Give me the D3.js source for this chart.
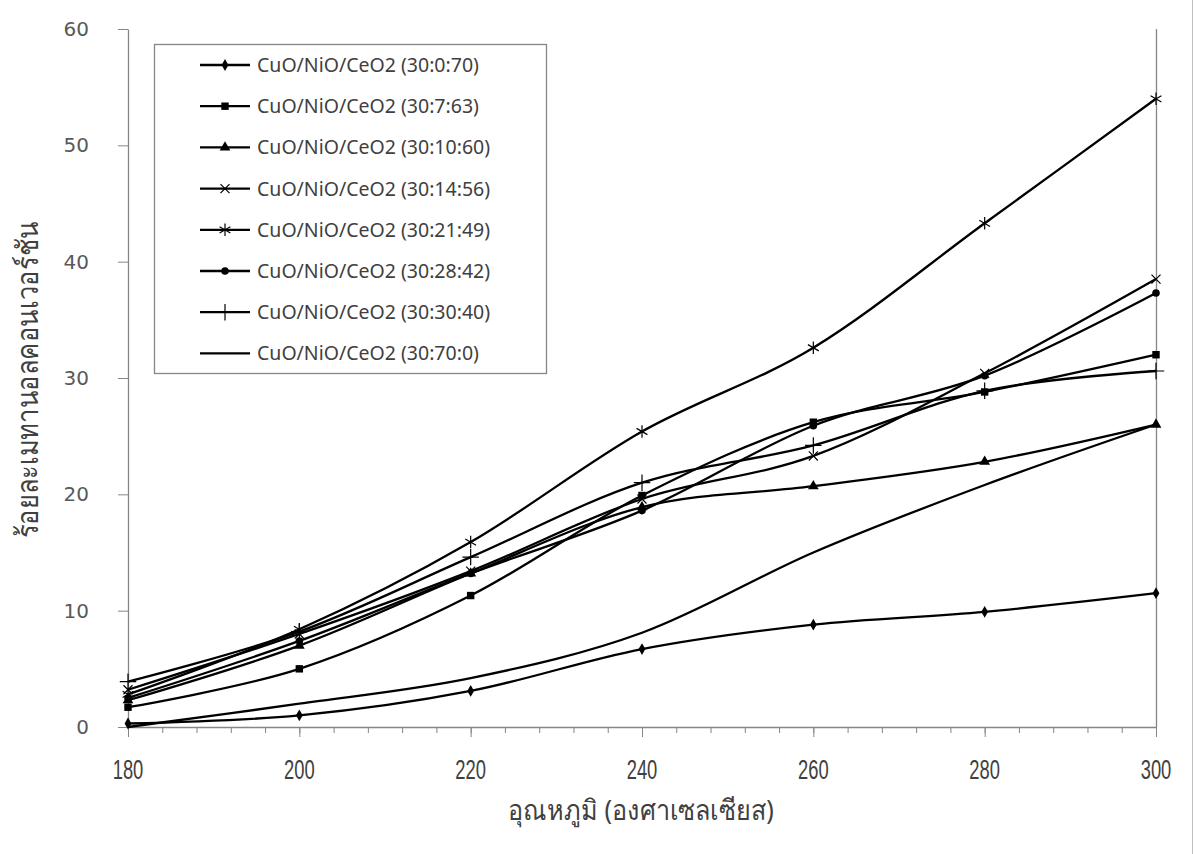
<!DOCTYPE html>
<html>
<head>
<meta charset="utf-8">
<script src="https://cdn.jsdelivr.net/npm/d3@7"></script>
<style>
  body { margin: 0; background: #fff; }
  svg { display: block; }
</style>
</head>
<body>
<script>
// temperatures (deg C)
var temps = [180, 200, 220, 240, 260, 280, 300];

var seriesNames = [
    "CuO/NiO/CeO2 (30:0:70)",
    "CuO/NiO/CeO2 (30:7:63)",
    "CuO/NiO/CeO2 (30:10:60)",
    "CuO/NiO/CeO2 (30:14:56)",
    "CuO/NiO/CeO2 (30:21:49)",
    "CuO/NiO/CeO2 (30:28:42)",
    "CuO/NiO/CeO2 (30:30:40)",
    "CuO/NiO/CeO2 (30:70:0)"];

// methanol conversion (%), one array per catalyst
var cat_30_0_70  = [0.3, 1.0, 3.1, 6.7, 8.8, 9.9, 11.5];
var cat_30_7_63  = [1.7, 5.0, 11.3, 19.9, 26.2, 28.8, 32.0];
var cat_30_10_60 = [2.3, 7.0, 13.2, 18.9, 20.7, 22.8, 26.0];
var cat_30_14_56 = [3.2, 8.0, 13.4, 19.6, 23.3, 30.4, 38.5];
var cat_30_21_49 = [2.8, 8.4, 15.9, 25.4, 32.6, 43.3, 54.0];
var cat_30_28_42 = [2.5, 7.4, 13.2, 18.6, 25.9, 30.2, 37.3];
var cat_30_30_40 = [3.9, 8.2, 14.6, 21.0, 24.2, 28.9, 30.6];
var cat_30_70_0  = [0.0, 2.0, 4.2, 8.1, 15.0, 20.8, 26.0];

var allValues = [cat_30_0_70, cat_30_7_63, cat_30_10_60, cat_30_14_56,
    cat_30_21_49, cat_30_28_42, cat_30_30_40, cat_30_70_0];

var xTicks = [180, 200, 220, 240, 260, 280, 300];
var yTicks = [0, 10, 20, 30, 40, 50, 60];

var markerTypes = ["diamond", "square", "triangle", "times", "asterisk", "circle", "plus", "none"];

function drawChart () {
    var width = 1194,
        height = 854;

    var svg = d3.select("body").append("svg")
        .attr("width", width)
        .attr("height", height);

    var x = d3.scaleLinear().domain([180, 300]).range([128, 1156]);
    var y = d3.scaleLinear().domain([0, 60]).range([727, 29]);

    var axisColor = "#868686";

    // outer chart border (only the right edge shows in the picture)
    svg.append("line")
        .attr("x1", 1192.5).attr("x2", 1192.5)
        .attr("y1", 0).attr("y2", height)
        .style("stroke", "#bfbfbf");

    // right edge of plot area
    svg.append("line")
        .attr("x1", x(300) + 0.5).attr("x2", x(300) + 0.5)
        .attr("y1", y(60)).attr("y2", y(0))
        .style("stroke", axisColor).style("stroke-width", 1.3);

    // x axis: major ticks every 20, minor every 4
    var minor = d3.range(180, 301, 4);
    svg.append("g")
        .attr("transform", "translate(0," + y(0) + ")")
        .call(d3.axisBottom(x).tickValues(minor).tickSize(6).tickFormat(""))
        .call(function (g) {
            g.select(".domain").remove();
            g.selectAll("line").style("stroke", axisColor);
        });
    var xAxis = svg.append("g")
        .attr("transform", "translate(0," + y(0) + ")")
        .call(d3.axisBottom(x).tickValues(xTicks).tickSize(10).tickSizeOuter(0).tickFormat(""));
    xAxis.select(".domain").style("stroke", axisColor).style("stroke-width", 1.3);
    xAxis.selectAll("line").style("stroke", axisColor);

    // x tick labels (tall narrow digits)
    svg.append("g").selectAll("text")
        .data(xTicks)
        .enter().append("text")
        .attr("transform", function (d) { return "translate(" + x(d) + ",779) scale(0.68,1)"; })
        .attr("text-anchor", "middle")
        .style("font-family", "Liberation Sans, sans-serif")
        .style("font-size", "27px")
        .style("fill", "#404040")
        .text(function (d) { return d; });

    // y axis
    var yAxis = svg.append("g")
        .attr("transform", "translate(" + x(180) + ",0)")
        .call(d3.axisLeft(y).tickValues(yTicks).tickSize(10).tickSizeOuter(0).tickPadding(29));
    yAxis.select(".domain").style("stroke", axisColor).style("stroke-width", 1.3);
    yAxis.selectAll("line").style("stroke", axisColor);
    yAxis.selectAll("text")
        .style("font-family", "DejaVu Sans, sans-serif")
        .style("font-size", "20px")
        .style("fill", "#595959");

    // axis titles
    svg.append("text")
        .attr("transform", "translate(641,820) scale(0.9,1)")
        .attr("text-anchor", "middle")
        .style("font-family", "Noto Sans, sans-serif")
        .style("font-size", "28px")
        .style("fill", "#404040")
        .text("อุณหภูมิ (องศาเซลเซียส)");

    svg.append("text")
        .attr("transform", "translate(38,380) rotate(-90) scale(0.85,1)")
        .attr("text-anchor", "middle")
        .style("font-family", "Noto Sans, sans-serif")
        .style("font-size", "30px")
        .style("fill", "#404040")
        .text("ร้อยละเมทานอลคอนเวอร์ชัน");

    // series
    var series = seriesNames.map(function (name, i) {
        return {
            name: name,
            marker: markerTypes[i],
            points: temps.map(function (t, j) { return { t: t, v: allValues[i][j] }; })
        };
    });

    var line = d3.line()
        .x(function (d) { return x(d.t); })
        .y(function (d) { return y(d.v); })
        .curve(d3.curveCardinal.tension(0));

    svg.append("g")
        .selectAll("path")
        .data(series)
        .enter().append("path")
        .attr("d", function (s) { return line(s.points); })
        .style("fill", "none")
        .style("stroke", "#000")
        .style("stroke-width", 2.3);

    function drawMarker (sel, type) {
        var filled = { diamond: [d3.symbolDiamond, 40], square: [d3.symbolSquare, 55],
                       triangle: [d3.symbolTriangle, 50], circle: [d3.symbolCircle, 45] };
        var stroked = { times: [d3.symbolTimes, 55], asterisk: [d3.symbolAsterisk, 110],
                        plus: [d3.symbolPlus, 90] };
        if (filled[type]) {
            sel.append("path")
                .attr("d", d3.symbol().type(filled[type][0]).size(filled[type][1]))
                .style("fill", "#000");
        } else if (stroked[type]) {
            sel.append("path")
                .attr("d", d3.symbol().type(stroked[type][0]).size(stroked[type][1]))
                .style("fill", "none")
                .style("stroke", "#000")
                .style("stroke-width", 1.2);
        }
    }

    series.forEach(function (s) {
        if (s.marker === "none") return;
        var g = svg.append("g");
        s.points.forEach(function (p) {
            var m = g.append("g").attr("transform", "translate(" + x(p.t) + "," + y(p.v) + ")");
            drawMarker(m, s.marker);
        });
    });

    // legend
    var legend = svg.append("g");
    legend.append("rect")
        .attr("x", 154.5).attr("y", 44.5)
        .attr("width", 392).attr("height", 329)
        .style("fill", "#fff")
        .style("stroke", "#868686")
        .style("stroke-width", 1.3);

    var items = legend.selectAll("g.item")
        .data(series)
        .enter().append("g")
        .attr("class", "item")
        .attr("transform", function (d, i) { return "translate(0," + (65 + i * 41.2) + ")"; });
    items.append("line")
        .attr("x1", 200).attr("x2", 250)
        .style("stroke", "#000")
        .style("stroke-width", 2.3);
    items.each(function (d) {
        var m = d3.select(this).append("g").attr("transform", "translate(225,0)");
        drawMarker(m, d.marker);
    });
    items.append("text")
        .attr("x", 257)
        .attr("y", 7)
        .style("font-family", "Noto Sans, sans-serif")
        .style("font-size", "19.5px")
        .style("fill", "#404040")
        .text(function (d) { return d.name; });
}

drawChart();
</script>
</body>
</html>
